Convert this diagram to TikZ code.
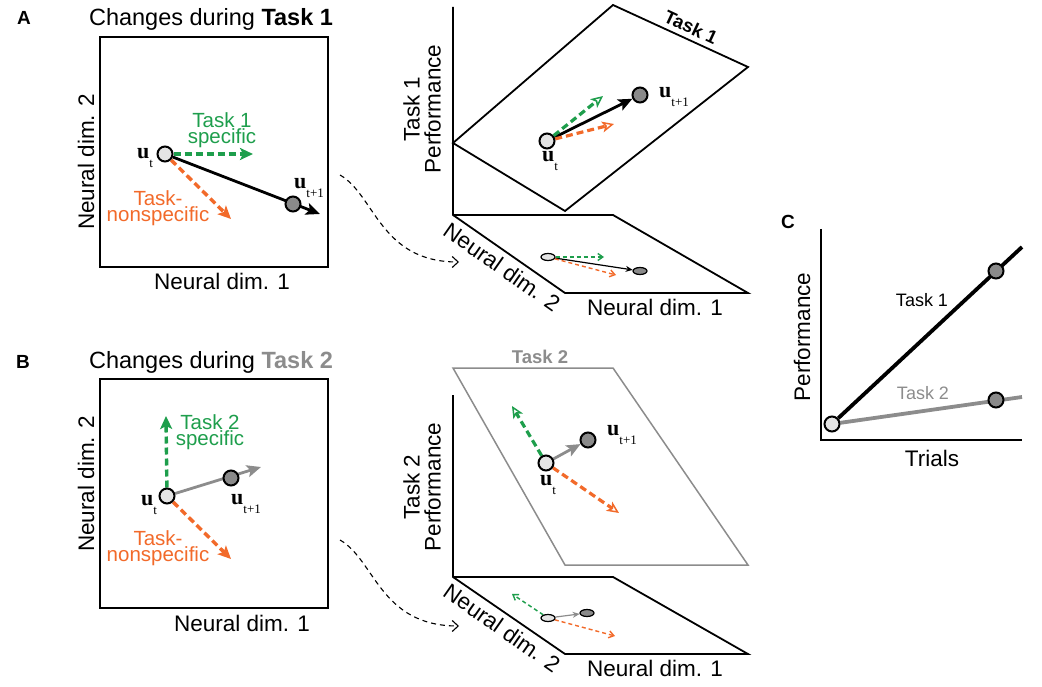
\documentclass[tikz,border=0pt]{standalone}
\usepackage{fontspec}
\setmainfont{Liberation Sans}
\newfontfamily\userif{Liberation Serif}
\usetikzlibrary{arrows.meta,shapes.geometric}
\definecolor{tgreen}{RGB}{30,158,76}
\definecolor{torange}{RGB}{242,106,42}
\definecolor{tgray}{RGB}{140,140,140}
\definecolor{lightfill}{RGB}{228,228,228}
\definecolor{darkfill}{RGB}{138,138,138}
\newcommand\uvec[1]{{\userif\fontsize{22}{22}\selectfont\textbf{u}\raisebox{-9pt}{\fontsize{13}{13}\selectfont #1}}}
\pgfdeclarelayer{bg}
\pgfsetlayers{bg,main}
\begin{document}
\begin{tikzpicture}[x=1pt,y=-1pt,
  lbl/.style={font=\fontsize{22.5}{22}\selectfont,inner sep=0pt},
  panel/.style={font=\bfseries\fontsize{19}{19}\selectfont,inner sep=0pt},
  small/.style={font=\fontsize{20.5}{16.5}\selectfont,inner sep=0pt,align=center},
  axisln/.style={line width=1.8pt,line join=miter},
  ptlight/.style={circle,draw=black,line width=2pt,fill=lightfill,minimum size=15pt,inner sep=0pt},
  ptdark/.style={circle,draw=black,line width=2pt,fill=darkfill,minimum size=15pt,inner sep=0pt},
  elight/.style={ellipse,draw=black,line width=1.2pt,fill=lightfill,minimum width=14pt,minimum height=7pt,inner sep=0pt},
  edark/.style={ellipse,draw=black,line width=1.2pt,fill=darkfill,minimum width=14pt,minimum height=7pt,inner sep=0pt},
  solidvec/.style={line width=2.8pt,-{Stealth[length=14pt,width=12pt,inset=3pt]}},
  dashvec/.style={line width=3.4pt,dash pattern=on 7pt off 4pt,-{Stealth[length=13pt,width=12pt,inset=3pt]}},
  opendash/.style={line width=3.2pt,dash pattern=on 7pt off 4pt,-{Stealth[open,length=12pt,width=11pt,inset=3pt,line width=1.5pt]}},
  thinvec/.style={line width=1.2pt,-{Stealth[length=7pt,width=6pt]}},
  thindash/.style={line width=1.4pt,dash pattern=on 4pt off 3pt,-{Straight Barb[length=5pt,width=7pt]}},
  curvearr/.style={line width=1.1pt,dash pattern=on 5pt off 4pt,-{Straight Barb[length=6pt,width=11pt]}}
]
\useasboundingbox (0,0) rectangle (1042,687);

% ================= Panel A left =================
\node[panel] (labA) at (24,18) {A};
\node[lbl,font=\fontsize{23.5}{23}\selectfont] (titleA) at (211,19) {Changes during \textbf{Task 1}};
\draw[axisln] (100,37) rectangle (328,267);
\node[lbl,rotate=90] (yA) at (86,162) {Neural dim. 2};
\node[lbl] (xA) at (222,281) {Neural dim. 1};
\node[ptlight] (a0) at (165,154) {};
\node[ptdark] (a1) at (293,204) {};
\coordinate (a1end) at (320,214);
\coordinate (agreen) at (253,154);
\coordinate (aorange) at (231,219);
\begin{pgfonlayer}{bg}
\draw[solidvec] (a0) -- (a1end);
\draw[dashvec,tgreen] (a0) -- (agreen);
\draw[dashvec,torange] (a0) -- (aorange);
\end{pgfonlayer}
\node[small,text=tgreen,anchor=north] (aglbl) at (222,112) {Task 1\\specific};
\node[small,text=torange,anchor=north] (aolbl) at (158,190) {Task-\\nonspecific};
\node (aut) at (145,158) {\uvec{t}};
\node (aut1) at (309,188) {\uvec{t+1}};

% ================= Panel A right =================
\draw[axisln] (453,7) -- (453,215) -- (565,293) -- (748,293) -- (613,215) -- (453,215);
\draw[axisln] (453,143) -- (613,5) -- (748,67) -- (565,211) -- cycle;
\node[font=\bfseries\fontsize{18.5}{18}\selectfont,rotate=-25] (t1lbl) at (691,27) {Task 1};
\node[lbl,rotate=90,align=center,font=\fontsize{22.5}{21}\selectfont] (perfA) at (422,109) {Task 1\\Performance};
\node[ptlight] (p0) at (547,141) {};
\node[ptdark] (p1) at (640,95) {};
\coordinate (pgreen) at (603,96);
\coordinate (porange) at (614,124);
\begin{pgfonlayer}{bg}
\draw[solidvec] (p0) -- (p1);
\draw[opendash,tgreen] (p0) -- (pgreen);
\draw[opendash,torange] (p0) -- (porange);
\end{pgfonlayer}
\node (put) at (550,161) {\uvec{t}};
\node (put1) at (674,97) {\uvec{t+1}};
\node[edark] (e1) at (640,271) {};
\node[elight] (e0) at (548,257) {};
\coordinate (egreen) at (604,257);
\coordinate (eorange) at (616,275);
\begin{pgfonlayer}{bg}
\draw[thinvec] (e0) -- (e1);
\draw[thindash,tgreen] (e0) -- (egreen);
\draw[thindash,torange] (e0) -- (eorange);
\end{pgfonlayer}
\node[lbl,rotate=-35] (dim2A) at (502,267) {Neural dim. 2};
\node[lbl] (dim1A) at (655,307) {Neural dim. 1};
\coordinate (cA0) at (340,175);
\coordinate (cA1) at (459,262);
\draw[curvearr] (cA0) .. controls (375,195) and (380,262) .. (cA1);

% ================= Panel B left =================
\node[panel] (labB) at (23,362) {B};
\node[lbl,font=\fontsize{23.5}{23}\selectfont] (titleB) at (211,362) {Changes during \textcolor{tgray}{\textbf{Task 2}}};
\draw[axisln] (100,379) rectangle (328,608);
\node[lbl,rotate=90] (yB) at (86,484) {Neural dim. 2};
\node[lbl] (xB) at (242,623) {Neural dim. 1};
\node[ptlight] (b0) at (167,496) {};
\node[ptdark] (b1) at (231,478) {};
\coordinate (b1end) at (261,467);
\coordinate (bgreen) at (166,416);
\coordinate (borange) at (231,559);
\begin{pgfonlayer}{bg}
\draw[solidvec,tgray] (b0) -- (b1end);
\draw[dashvec,tgreen] (b0) -- (bgreen);
\draw[dashvec,torange] (b0) -- (borange);
\end{pgfonlayer}
\node[small,text=tgreen,anchor=north] (bglbl) at (210,414) {Task 2\\specific};
\node[small,text=torange,anchor=north] (bolbl) at (158,530) {Task-\\nonspecific};
\node (but) at (149,505) {\uvec{t}};
\node (but1) at (246,504) {\uvec{t+1}};

% ================= Panel B right =================
\draw[axisln] (453,395) -- (453,577) -- (565,654) -- (748,654) -- (613,577) -- (453,577);
\draw[line width=1.5pt,tgray,line join=miter] (453,368) -- (613,368) -- (748,565) -- (565,565) -- cycle;
\node[font=\bfseries\fontsize{18.5}{18}\selectfont,text=tgray] (t2lbl) at (540,357) {Task 2};
\node[lbl,rotate=90,align=center,font=\fontsize{22.5}{21}\selectfont] (perfB) at (422,487) {Task 2\\Performance};
\node[ptlight] (q0) at (546,463) {};
\node[ptdark] (q1) at (588,440) {};
\coordinate (qgreen) at (512,406);
\coordinate (qorange) at (619,513);
\begin{pgfonlayer}{bg}
\draw[solidvec,tgray] (q0) -- (q1);
\draw[opendash,tgreen] (q0) -- (qgreen);
\draw[opendash,torange] (q0) -- (qorange);
\end{pgfonlayer}
\node (qut) at (548,485) {\uvec{t}};
\node (qut1) at (622,435) {\uvec{t+1}};
\node[edark] (f1) at (587,613) {};
\node[elight] (f0) at (548,618) {};
\coordinate (fgreen) at (512,594);
\coordinate (forange) at (615,636);
\begin{pgfonlayer}{bg}
\draw[thinvec,tgray] (f0) -- (f1);
\draw[thindash,tgreen] (f0) -- (fgreen);
\draw[thindash,torange] (f0) -- (forange);
\end{pgfonlayer}
\node[lbl,rotate=-35] (dim2B) at (502,628) {Neural dim. 2};
\node[lbl] (dim1B) at (655,668) {Neural dim. 1};
\coordinate (cB0) at (340,540);
\coordinate (cB1) at (459,626);
\draw[curvearr] (cB0) .. controls (375,560) and (380,626) .. (cB1);

% ================= Panel C =================
\node[panel] (labC) at (788,222) {C};
\draw[line width=1.5pt,line join=miter] (821,229) -- (821,440) -- (1022,440);
\node[lbl,rotate=90] (perfC) at (802,337) {Performance};
\node[lbl] (trials) at (932,458) {Trials};
\node[ptlight] (c0) at (832,424) {};
\node[ptdark] (c1) at (996,271) {};
\node[ptdark] (c2) at (996,400) {};
\coordinate (c1end) at (1022,247);
\coordinate (c2end) at (1022,397);
\begin{pgfonlayer}{bg}
\draw[line width=3.8pt,tgray] (c0) -- (c2end);
\draw[line width=3.8pt] (c0) -- (c1end);
\end{pgfonlayer}
\node[font=\fontsize{18}{18}\selectfont] (c1lbl) at (922,300) {Task 1};
\node[font=\fontsize{18}{18}\selectfont,text=tgray] (c2lbl) at (923,393) {Task 2};
\end{tikzpicture}
\end{document}
